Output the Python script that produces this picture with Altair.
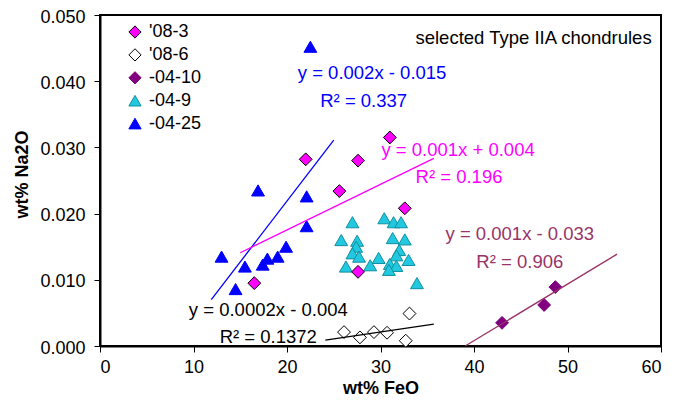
import altair as alt
import pandas as pd

# ---------------- data ----------------
series_names = ["'08-3", "'08-6", "-04-10", "-04-9", "-04-25"]
series_shapes = ["diamond", "diamond", "diamond", "triangle-up", "triangle-up"]
series_fills = ["#FF00FF", "#FFFFFF", "#800080", "#22C8E0", "#0000FF"]
series_strokes = ["#000000", "#000000", "#800080", "#10909F", "#0000FF"]

s083_x = [22.0, 27.6, 25.6, 32.6, 27.6, 16.5, 31.0]
s083_y = [0.0282, 0.0280, 0.0234, 0.0208, 0.0112, 0.0095, 0.0315]

s086_x = [33.1, 26.1, 27.8, 29.3, 30.7, 32.7]
s086_y = [0.0049, 0.0021, 0.0013, 0.0021, 0.0020, 0.0008]

s0410_x = [43.0, 47.5, 48.7]
s0410_y = [0.0035, 0.0062, 0.0089]

s049_x = [27.0, 30.4, 31.4, 32.2, 25.8, 27.5, 31.3, 32.6, 27.4, 27.0, 27.7,
          32.0, 31.7, 29.8, 26.3, 28.9, 31.0, 31.7, 30.9, 33.0, 33.9]
s049_y = [0.0187, 0.0193, 0.0187, 0.0187, 0.0160, 0.0159, 0.0163, 0.0161, 0.0150,
          0.0140, 0.0135, 0.0145, 0.0137, 0.0133, 0.0120, 0.0122, 0.0124, 0.0121,
          0.0115, 0.0130, 0.0095]

s0425_x = [22.5, 16.9, 22.1, 22.1, 19.9, 19.0, 17.9, 17.4, 15.5, 13.0, 14.5]
s0425_y = [0.0452, 0.0235, 0.0226, 0.0181, 0.0150, 0.0135, 0.0132, 0.0123,
           0.0120, 0.0135, 0.0086]

# trend lines (fitted parameters as drawn)
fit_series = ["-04-25", "'08-3", "'08-6", "-04-10"]
fit_slope = [0.00184, 0.000688, 0.000208, 0.000855]
fit_intercept = [-0.0149, 0.00377, -0.00412, -0.0334]
fit_x_start = [11.9, 15.0, 24.1, 39.1]
fit_x_end = [25.0, 35.7, 35.7, 55.3]
fit_colors = ["#0000FF", "#FF00FF", "#000000", "#993366"]

# equation labels
eq_text = ["y = 0.002x - 0.015", "R² = 0.337",
           "y = 0.001x + 0.004", "R² = 0.196",
           "y = 0.001x - 0.033", "R² = 0.906",
           "y = 0.0002x - 0.004", "R² = 0.1372"]
eq_x = [29.1, 28.2, 38.3, 38.4, 44.9, 44.9, 18.0, 18.0]
eq_y = [0.0412, 0.0370, 0.0296, 0.0255, 0.0169, 0.0127, 0.0055, 0.0013]
eq_color = ["#0000FF", "#0000FF", "#FF00FF", "#FF00FF",
            "#993366", "#993366", "#000000", "#000000"]

note_text = ["selected Type IIA chondrules"]
note_x = [59.0]
note_y = [0.0465]

x_ticks = [0, 10, 20, 30, 40, 50, 60]
y_ticks = [0.0, 0.01, 0.02, 0.03, 0.04, 0.05]

FONT = "Liberation Sans"

# ---------------- build tables ----------------
rows = []
draw_order = ["-04-9", "'08-6", "-04-10", "-04-25", "'08-3"]
series_data = {
    "'08-3": (s083_x, s083_y),
    "'08-6": (s086_x, s086_y),
    "-04-10": (s0410_x, s0410_y),
    "-04-9": (s049_x, s049_y),
    "-04-25": (s0425_x, s0425_y),
}
for name in draw_order:
    xs, ys = series_data[name]
    for xv, yv in zip(xs, ys):
        rows.append({"series": name, "FeO": xv, "Na2O": yv})
points = pd.DataFrame(rows)

line_rows = []
for s, m, b, x0, x1, c in zip(fit_series, fit_slope, fit_intercept,
                              fit_x_start, fit_x_end, fit_colors):
    for xv in (x0, x1):
        line_rows.append({"series": s, "FeO": xv, "Na2O": m * xv + b, "col": c})
lines = pd.DataFrame(line_rows)

eqs = pd.DataFrame({"text": eq_text, "FeO": eq_x, "Na2O": eq_y, "col": eq_color})
note = pd.DataFrame({"text": note_text, "FeO": note_x, "Na2O": note_y})

xscale = alt.Scale(domain=[0, 60], nice=False, zero=False)
yscale = alt.Scale(domain=[0, 0.05], nice=False, zero=False)

xaxis = alt.Axis(values=x_ticks, title="wt% FeO", grid=False, tickSize=6,
                 labelPadding=6, titlePadding=3, format="d")
yaxis = alt.Axis(values=y_ticks, title="wt% Na2O", grid=False, tickSize=6,
                 labelPadding=9, titlePadding=8, format=".3f", titleY=159,
                 labelOffset=2)

legend = alt.Legend(title=None, orient="none", legendX=26, legendY=8,
                    labelFontSize=18, labelFont=FONT, labelColor="#000000",
                    symbolSize=150, rowPadding=4.9, padding=0, labelOffset=5,
                    symbolStrokeWidth=1, labelLimit=200)

pts = alt.Chart(points).mark_point(filled=True, opacity=1, strokeWidth=1, size=165).encode(
    x=alt.X("FeO:Q", scale=xscale, axis=xaxis),
    y=alt.Y("Na2O:Q", scale=yscale, axis=yaxis),
    fill=alt.Fill("series:N", scale=alt.Scale(domain=series_names, range=series_fills), legend=legend),
    stroke=alt.Stroke("series:N", scale=alt.Scale(domain=series_names, range=series_strokes), legend=legend),
    shape=alt.Shape("series:N", scale=alt.Scale(domain=series_names, range=series_shapes), legend=legend),
)

trend = alt.Chart(lines).mark_line(strokeWidth=1.3).encode(
    x=alt.X("FeO:Q", scale=xscale),
    y=alt.Y("Na2O:Q", scale=yscale),
    detail="series:N",
    color=alt.Color("col:N", scale=None),
)

eq_layer = alt.Chart(eqs).mark_text(fontSize=18.5, font=FONT, align="center", baseline="middle").encode(
    x=alt.X("FeO:Q", scale=xscale),
    y=alt.Y("Na2O:Q", scale=yscale),
    text="text:N",
    color=alt.Color("col:N", scale=None),
)

note_layer = alt.Chart(note).mark_text(fontSize=18.5, font=FONT, align="right",
                                       baseline="middle", color="#000000").encode(
    x=alt.X("FeO:Q", scale=xscale),
    y=alt.Y("Na2O:Q", scale=yscale),
    text="text:N",
)

chart = alt.layer(pts, trend, eq_layer, note_layer).resolve_scale(
    color="independent"
).properties(
    width=561, height=331,
    autosize=alt.AutoSizeParams(type="none"),
    padding={"left": 92, "top": 7, "right": 12, "bottom": 52},
).configure(
    font=FONT,
).configure_view(
    stroke="#000000", strokeWidth=2,
).configure_axis(
    domainColor="#000000", domainWidth=2, tickColor="#000000", tickWidth=1,
    labelColor="#000000", labelFontSize=18, labelFont=FONT,
    titleColor="#000000", titleFontSize=18, titleFont=FONT, titleFontWeight="bold",
)

chart.save("out.html", embed_options={"renderer": "svg", "actions": False})
